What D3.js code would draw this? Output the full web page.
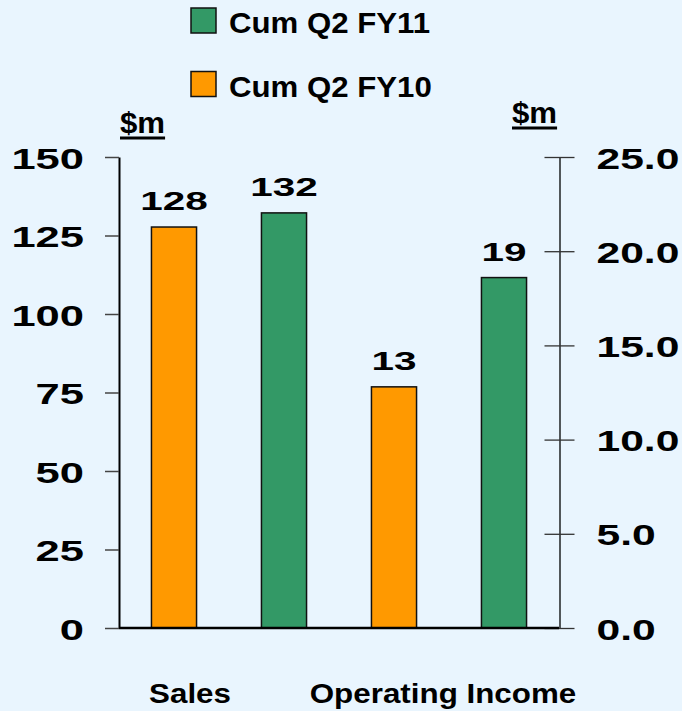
<!DOCTYPE html>
<html>
<head>
<meta charset="utf-8">
<script src="https://cdn.jsdelivr.net/npm/d3@7"></script>
<style>
  html, body { margin: 0; padding: 0; background: #e9f5fe; }
  svg { display: block; }
  text { font-family: "Liberation Sans", Arial, sans-serif; font-weight: bold; fill: #000; }
</style>
</head>
<body>
<div id="chart"></div>
<script>
// data
var categories = ["Sales", "Operating Income"];
var seriesNames = ["Cum Q2 FY10", "Cum Q2 FY11"];
var salesValues = [127.7, 132.2];      // left axis, $m
var opIncomeValues = [12.8, 18.6];     // right axis, $m
var leftTicks = [0, 25, 50, 75, 100, 125, 150];
var rightTicks = [0, 5, 10, 15, 20, 25];
var legendOrder = ["Cum Q2 FY11", "Cum Q2 FY10"];

var colors = { "Cum Q2 FY10": "#ff9900", "Cum Q2 FY11": "#339966" };

var width = 682, height = 711;
var margin = { left: 119, right: 123, top: 157, bottom: 83 };

var svg = d3.select("#chart").append("svg")
    .attr("width", width)
    .attr("height", height);

// one bar per (category, series), each tied to its own axis
var bars = [];
categories.forEach(function (c, i) {
  seriesNames.forEach(function (s, j) {
    bars.push({
      key: c + "|" + s,
      category: c,
      series: s,
      axis: i === 0 ? "left" : "right",
      value: i === 0 ? salesValues[j] : opIncomeValues[j]
    });
  });
});

var x = d3.scaleBand()
    .domain(bars.map(function (d) { return d.key; }))
    .range([margin.left, width - margin.right])
    .paddingInner(0.59)
    .paddingOuter(0.295);

var yLeft = d3.scaleLinear().domain([0, 150]).range([height - margin.bottom, margin.top]);
var yRight = d3.scaleLinear().domain([0, 25]).range([height - margin.bottom, margin.top]);

function yOf(d) { return d.axis === "left" ? yLeft(d.value) : yRight(d.value); }

// bars
svg.append("g").selectAll("rect")
  .data(bars)
  .enter().append("rect")
    .attr("x", function (d) { return x(d.key); })
    .attr("y", function (d) { return yOf(d); })
    .attr("width", x.bandwidth())
    .attr("height", function (d) { return yLeft(0) - yOf(d); })
    .attr("fill", function (d) { return colors[d.series]; })
    .attr("stroke", "#111")
    .attr("stroke-width", 1.5);

// value labels (stretched wide like the original)
svg.append("g").selectAll("text")
  .data(bars)
  .enter().append("text")
    .attr("text-anchor", "middle")
    .attr("font-size", 25)
    .attr("transform", function (d) {
      return "translate(" + (x(d.key) + x.bandwidth() / 2) + "," + (yOf(d) - 17) + ") scale(1.62,1)";
    })
    .text(function (d) { return d3.format(".0f")(d.value); });

// left axis
var leftAxis = svg.append("g")
    .attr("transform", "translate(" + margin.left + ",0)")
    .call(d3.axisLeft(yLeft).tickValues(leftTicks).tickSize(14).tickSizeOuter(0).tickFormat(d3.format("d")));
leftAxis.select(".domain").attr("stroke", "#000").attr("stroke-width", 2);
leftAxis.selectAll(".tick line").attr("stroke", "#444").attr("stroke-width", 1.5);
leftAxis.selectAll(".tick text")
    .attr("x", 0).attr("dy", null)
    .attr("font-size", 30)
    .attr("font-family", null)
    .attr("fill", "#000")
    .attr("text-anchor", "end")
    .attr("transform", "translate(-35,11) scale(1.45,1)");

// right axis, ticks cross the line
var rightAxis = svg.append("g")
    .attr("transform", "translate(" + (width - margin.right + 0.5) + ",0)")
    .call(d3.axisRight(yRight).tickValues(rightTicks).tickSize(15).tickSizeOuter(0).tickFormat(d3.format(".1f")));
rightAxis.select(".domain").attr("stroke", "#000").attr("stroke-width", 1.3);
rightAxis.selectAll(".tick line").attr("x1", -15).attr("x2", 15).attr("stroke", "#333").attr("stroke-width", 1.3);
rightAxis.selectAll(".tick text")
    .attr("x", 0).attr("dy", null)
    .attr("font-size", 30)
    .attr("font-family", null)
    .attr("fill", "#000")
    .attr("text-anchor", "start")
    .attr("transform", "translate(37,11) scale(1.42,1)");

// baseline
svg.append("line")
    .attr("x1", margin.left).attr("x2", width - margin.right)
    .attr("y1", yLeft(0)).attr("y2", yLeft(0))
    .attr("stroke", "#000").attr("stroke-width", 2.5);

// unit titles, underlined
function unitTitle(xPos, yPos) {
  var t = svg.append("text")
      .attr("x", xPos).attr("y", yPos)
      .attr("font-size", 30)
      .attr("text-anchor", "start")
      .attr("transform", "translate(" + xPos + ",0) scale(1.04,1) translate(" + (-xPos) + ",0)")
      .text("$m");
  var b = t.node().getBBox();
  svg.append("line")
      .attr("x1", xPos).attr("x2", xPos + b.width * 1.04)
      .attr("y1", yPos + 5).attr("y2", yPos + 5)
      .attr("stroke", "#000").attr("stroke-width", 3);
}
unitTitle(120, 133);
unitTitle(512, 123);

// legend
var legend = svg.append("g").selectAll("g")
  .data(legendOrder)
  .enter().append("g")
    .attr("transform", function (d, i) { return "translate(191," + (8 + i * 63.5) + ")"; });
legend.append("rect")
    .attr("width", 25).attr("height", 25)
    .attr("fill", function (d) { return colors[d]; })
    .attr("stroke", "#111").attr("stroke-width", 1.5);
legend.append("text")
    .attr("font-size", 30)
    .attr("transform", "translate(38,25) scale(1.04,1)")
    .text(function (d) { return d; });

// category labels
var catOffsets = [-39, -6];
svg.append("g").selectAll("text")
  .data(categories)
  .enter().append("text")
    .attr("text-anchor", "middle")
    .attr("font-size", 28)
    .attr("transform", function (d, i) {
      var k0 = x(d + "|" + seriesNames[0]), k1 = x(d + "|" + seriesNames[1]) + x.bandwidth();
      return "translate(" + ((k0 + k1) / 2 + catOffsets[i]) + ",703) scale(1.12,1)";
    })
    .text(function (d) { return d; });
</script>
</body>
</html>
